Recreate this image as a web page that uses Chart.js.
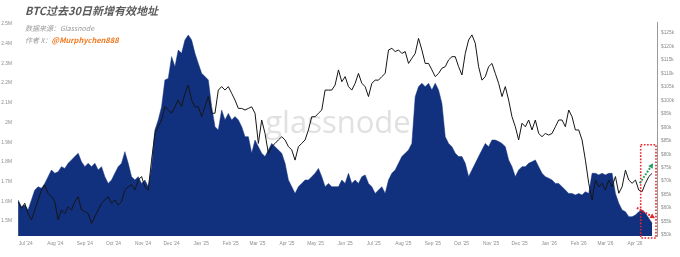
<!DOCTYPE html>
<html>
<head>
<meta charset="utf-8">
<script src="https://cdn.jsdelivr.net/npm/chart.js@4/dist/chart.umd.min.js"></script>
<style>
html,body{margin:0;padding:0;background:#fff;}
#wrap{width:680px;height:257px;position:relative;}
</style>
</head>
<body>
<div id="wrap"><canvas id="c"></canvas></div>
<script>
// ---------- texts ----------
const titleText = 'BTC过去30日新增有效地址';
const sourceText = '数据来源：Glassnode';
const authorPrefix = '作者 X：';
const authorHandle = '@Murphychen888';
const watermarkText = 'glassnode';

// ---------- time axis ----------
const monthNames = ['Jan','Feb','Mar','Apr','May','Jun','Jul','Aug','Sep','Oct','Nov','Dec'];
const axisOrigin = '2024-07-01';
const monthTickFirst = '2024-07-01';
const monthTickLast = '2026-04-01';
const axisStartDay = -8.1;
const axisEndDay = 662.1;

// ---------- series (sampled every 3.5 days from startDate) ----------
const startDate = '2024-06-23';
const stepDays = 3.5;

// 30-day new active addresses, millions
const newAddressesM = [
  1.607,1.573,1.581,1.556,1.607,1.657,1.674,1.666,1.691,1.725,
  1.759,1.742,1.750,1.776,1.767,1.793,1.810,1.827,1.844,1.801,
  1.776,1.793,1.776,1.793,1.759,1.776,1.725,1.691,1.708,1.742,
  1.776,1.793,1.852,1.793,1.725,1.708,1.725,1.691,1.708,1.674,
  1.776,1.962,2.013,2.080,2.216,2.224,2.334,2.283,
  2.368,2.351,2.419,2.444,2.419,2.351,2.300,2.250,2.233,2.216,
  2.080,1.979,1.962,2.063,2.013,2.046,2.013,2.030,2.013,1.979,
  1.928,1.928,1.844,1.911,1.877,1.844,1.827,1.860,1.894,1.877,
  1.860,1.844,1.793,1.708,1.674,1.640,1.674,1.691,1.708,1.708,
  1.725,1.742,1.767,1.725,1.674,1.691,1.674,1.674,
  1.674,1.708,1.691,1.742,1.691,1.708,1.691,1.725,1.734,1.691,
  1.674,1.640,1.657,1.674,1.640,1.708,1.742,1.759,1.793,1.827,
  1.844,1.860,1.894,2.131,2.182,2.199,2.182,2.199,2.165,2.199,
  2.165,2.097,1.928,1.894,1.877,1.844,1.827,1.827,1.793,1.725,
  1.759,1.793,1.827,1.860,1.894,1.877,1.911,1.911,
  1.903,1.894,1.877,1.810,1.776,1.725,1.759,1.776,1.776,1.793,
  1.801,1.810,1.776,1.742,1.725,1.717,1.708,1.691,1.691,1.674,
  1.657,1.640,1.640,1.632,1.640,1.632,1.649,1.640,1.742,1.742,
  1.734,1.742,1.734,1.742,1.742,1.640,1.590,1.556,1.547,1.522,
  1.522,1.530,1.547,1.556,1.539,1.514,1.488
];

// BTC price, thousand USD
const btcPriceK = [
  62.4,59.9,61.8,58.0,55.6,59.3,63.0,66.7,68.6,65.4,
  64.2,62.4,55.6,59.3,58.0,60.5,59.3,62.4,64.2,59.3,
  58.7,58.0,54.3,56.8,59.3,61.8,63.0,64.2,61.8,63.0,
  61.1,62.4,66.7,67.9,68.6,66.7,70.4,71.7,67.9,66.7,
  77.8,87.7,90.2,92.7,97.6,96.4,95.2,97.6,
  100.1,97.6,102.6,105.7,100.1,97.6,97.6,93.9,97.6,101.4,
  95.2,95.2,103.8,105.1,103.8,105.1,102.6,100.1,97.0,97.0,
  96.4,97.0,97.6,95.2,84.0,92.7,87.7,80.3,82.8,84.0,
  85.3,86.5,85.3,82.8,81.6,77.8,82.8,84.0,85.3,89.0,
  93.9,93.9,95.2,96.4,103.8,103.8,103.8,105.7,
  111.3,106.9,108.8,105.1,103.8,106.3,110.0,106.3,105.1,101.4,
  106.3,107.5,107.5,108.8,110.0,118.7,119.3,118.1,118.7,117.4,
  118.1,113.7,115.6,117.4,123.0,118.7,113.7,113.7,111.3,108.8,
  110.0,111.9,112.5,115.0,116.2,116.2,112.5,109.4,117.4,122.4,
  124.3,121.2,112.5,107.5,108.8,112.5,113.7,110.0,
  106.3,101.4,105.1,100.1,93.9,90.2,85.3,91.5,90.2,92.7,
  89.0,92.7,87.7,86.5,87.7,87.1,87.7,90.2,92.7,92.7,
  90.2,96.4,93.9,89.0,89.0,85.3,77.8,69.2,63.0,70.4,
  67.9,69.2,66.7,70.4,67.9,71.7,65.5,67.9,74.1,70.4,
  69.2,70.4,66.7,66.1,69.2,71.7,72.9
];

// ---------- axis ranges & ticks ----------
const addrAxisMin = 1.4239, addrAxisMax = 2.5102;
const priceAxisMin = 49.63, priceAxisMax = 129.08;
const addrTicks = [1.5,1.6,1.7,1.8,1.9,2.0,2.1,2.2,2.3,2.4,2.5];
const priceTicks = [50,55,60,65,70,75,80,85,90,95,100,105,110,115,120,125];

// ---------- annotations (data units) ----------
const highlightBox = { from: '2026-04-07', priceTop: 83.5, priceBottom: 48.9 };
const priceArrow = { from: ['2026-04-06', 69.2], to: ['2026-04-20', 76.6] };
const addrArrow  = { from: ['2026-04-03', 1.567], to: ['2026-04-22', 1.514] };

// ---------- build ----------
const DAY = 86400000;
const dayOf = s => (Date.parse(s) - Date.parse(axisOrigin)) / DAY;
const startDay = dayOf(startDate);
const addrPoints = newAddressesM.map((v, i) => ({ x: startDay + i * stepDays, y: v }));
const pricePoints = btcPriceK.map((v, i) => ({ x: startDay + i * stepDays, y: v }));

const monthTicks = [];
(function () {
  const a = new Date(monthTickFirst), b = new Date(monthTickLast);
  let y = a.getUTCFullYear(), m = a.getUTCMonth();
  while (Date.UTC(y, m, 1) <= b.getTime()) {
    monthTicks.push({ value: (Date.UTC(y, m, 1) - Date.parse(axisOrigin)) / DAY, y, m });
    m++; if (m > 11) { m = 0; y++; }
  }
})();
const monthLabel = v => {
  const t = monthTicks.find(t => Math.abs(t.value - v) < 0.01);
  return t ? monthNames[t.m] + " '" + String(t.y).slice(2) : '';
};

const tickFont = { family: '"Liberation Sans", Arial, sans-serif', size: 4.8 };
const tickColor = '#8c8c8c';

const decorPlugin = {
  id: 'decor',
  beforeDatasetsDraw(chart) {
    const ctx = chart.ctx;
    ctx.save();
    ctx.font = '31px "Open Sans", sans-serif';
    ctx.fillStyle = 'rgba(205,205,205,0.6)';
    ctx.textAlign = 'center';
    ctx.textBaseline = 'alphabetic';
    ctx.fillText(watermarkText, 338, 133);
    ctx.restore();
  },
  afterDatasetsDraw(chart) {
    const { ctx, scales } = chart;
    const X = scales.x, P = scales.yPrice, A = scales.yAddr;
    ctx.save();
    // highlight box
    const bx0 = X.getPixelForValue(dayOf(highlightBox.from));
    const bx1 = chart.chartArea.right - 1;
    const by0 = P.getPixelForValue(highlightBox.priceTop);
    const by1 = P.getPixelForValue(highlightBox.priceBottom);
    ctx.strokeStyle = '#e8232a';
    ctx.lineWidth = 1.6;
    ctx.setLineDash([1.6, 1.6]);
    ctx.strokeRect(bx0, by0, bx1 - bx0, by1 - by0);
    // arrows
    function arrow(x0, y0, x1, y1, color) {
      const ang = Math.atan2(y1 - y0, x1 - x0);
      const head = 5.5;
      const ex = x1 - Math.cos(ang) * head * 0.8, ey = y1 - Math.sin(ang) * head * 0.8;
      ctx.strokeStyle = color; ctx.fillStyle = color;
      ctx.lineWidth = 2; ctx.setLineDash([1.8, 1.5]);
      ctx.beginPath(); ctx.moveTo(x0, y0); ctx.lineTo(ex, ey); ctx.stroke();
      ctx.setLineDash([]);
      ctx.beginPath();
      ctx.moveTo(x1, y1);
      ctx.lineTo(x1 - head * Math.cos(ang - 0.5), y1 - head * Math.sin(ang - 0.5));
      ctx.lineTo(x1 - head * Math.cos(ang + 0.5), y1 - head * Math.sin(ang + 0.5));
      ctx.closePath(); ctx.fill();
    }
    arrow(X.getPixelForValue(dayOf(priceArrow.from[0])), P.getPixelForValue(priceArrow.from[1]),
          X.getPixelForValue(dayOf(priceArrow.to[0])), P.getPixelForValue(priceArrow.to[1]), '#1f9e5a');
    arrow(X.getPixelForValue(dayOf(addrArrow.from[0])), A.getPixelForValue(addrArrow.from[1]),
          X.getPixelForValue(dayOf(addrArrow.to[0])), A.getPixelForValue(addrArrow.to[1]), '#e8232a');
    ctx.restore();
  },
  afterDraw(chart) {
    const ctx = chart.ctx;
    ctx.save();
    ctx.textAlign = 'left';
    ctx.textBaseline = 'middle';
    ctx.font = 'italic bold 11px "Noto Sans CJK SC", sans-serif';
    ctx.fillStyle = '#5b5b5b';
    ctx.fillText(titleText, 25, 11);
    ctx.font = 'italic 7px "Noto Sans CJK SC", sans-serif';
    ctx.fillStyle = '#9a9a9a';
    ctx.fillText(sourceText, 25, 28);
    ctx.fillText(authorPrefix, 25, 40);
    const w = ctx.measureText(authorPrefix).width;
    ctx.font = 'italic bold 7.5px "Noto Sans CJK SC", sans-serif';
    ctx.fillStyle = '#f07a22';
    ctx.fillText(authorHandle, 25 + w, 40);
    ctx.restore();
  }
};

new Chart(document.getElementById('c'), {
  data: {
    datasets: [
      {
        type: 'line', label: 'BTC Price', data: pricePoints, yAxisID: 'yPrice',
        borderColor: '#161616', borderWidth: 1, pointRadius: 0, tension: 0, fill: false, order: 1
      },
      {
        type: 'line', label: '30d New Active Addresses', data: addrPoints, yAxisID: 'yAddr',
        borderColor: '#11307d', borderWidth: 0.5, backgroundColor: '#11307d',
        pointRadius: 0, tension: 0, fill: 'start', order: 2
      }
    ]
  },
  options: {
    responsive: true, maintainAspectRatio: false, animation: false,
    layout: { padding: { top: 22, left: 0, right: 0, bottom: 0 } },
    plugins: { legend: { display: false }, tooltip: { enabled: false } },
    scales: {
      x: {
        type: 'linear', min: axisStartDay, max: axisEndDay,
        grid: { display: false, drawTicks: false }, border: { display: false },
        afterBuildTicks: ax => { ax.ticks = monthTicks.map(t => ({ value: t.value })); },
        afterFit: ax => { ax.height = 21; },
        ticks: { callback: v => monthLabel(v), font: tickFont, color: tickColor, padding: 5, maxRotation: 0, autoSkip: false }
      },
      yAddr: {
        type: 'linear', position: 'left', min: addrAxisMin, max: addrAxisMax,
        grid: { display: false, drawTicks: false }, border: { display: false },
        afterBuildTicks: ax => { ax.ticks = addrTicks.map(v => ({ value: v })); },
        afterFit: ax => { ax.width = 18; },
        ticks: { callback: v => (+v.toFixed(1)) + 'M', font: tickFont, color: tickColor, padding: 6 }
      },
      yPrice: {
        type: 'linear', position: 'right', min: priceAxisMin, max: priceAxisMax,
        grid: { display: false, drawTicks: false }, border: { display: true, color: '#9a9a9a', width: 1 },
        afterBuildTicks: ax => { ax.ticks = priceTicks.map(v => ({ value: v })); },
        afterFit: ax => { ax.width = 23; },
        ticks: { callback: v => '$' + v + 'k', font: tickFont, color: tickColor, padding: 4 }
      }
    }
  },
  plugins: [decorPlugin]
});
</script>
</body>
</html>
